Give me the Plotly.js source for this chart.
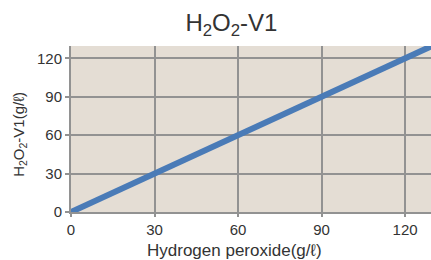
<!DOCTYPE html>
<html><head><meta charset="utf-8">
<script src="https://cdn.plot.ly/plotly-3.0.1.min.js"></script>
<style>html,body{margin:0;padding:0;background:#fff}#c{width:431px;height:260px}</style>
</head><body><div id="c"></div>
<script>
const xVals = [0, 30, 60, 90, 120, 130];
const yVals = [0, 30, 60, 90, 120, 130];
const tickVals = [0, 30, 60, 90, 120];
const tickText = ["0", "30", "60", "90", "120"];
const chartTitle = 'H<sub>2</sub>O<sub>2</sub>-V1';
const xTitle = 'Hydrogen peroxide(g/ℓ)';
const yTitle = 'H<sub>2</sub>O<sub>2</sub>-V1(g/ℓ)';
const font = "Liberation Sans, Arial, sans-serif";
Plotly.newPlot('c', [{
  x: xVals, y: yVals, mode: 'lines', type: 'scatter',
  line: {color: '#4a7bb7', width: 6}, hoverinfo: 'skip'
}], {
  width: 431, height: 260,
  margin: {l: 71, r: 0, t: 46, b: 48},
  paper_bgcolor: '#ffffff', plot_bgcolor: '#e4ddd4',
  showlegend: false,
  title: {text: chartTitle, x: 0.537, xanchor: 'center', y: 0.915, yanchor: 'middle',
          font: {family: font, size: 24, color: '#333'}},
  xaxis: {range: [0, 129.3], tickvals: tickVals, ticktext: tickText, showgrid: true,
          gridcolor: '#929292', gridwidth: 2, showline: true, linecolor: '#929292', linewidth: 2,
          ticks: 'outside', ticklen: 3, tickcolor: '#929292', tickwidth: 2, zeroline: false,
          tickfont: {family: font, size: 15, color: '#333'}},
  yaxis: {range: [0, 129.6], tickvals: tickVals, ticktext: tickText, showgrid: true,
          gridcolor: '#929292', gridwidth: 2, showline: true, linecolor: '#929292', linewidth: 2,
          ticks: 'outside', ticklen: 4, tickcolor: '#929292', tickwidth: 2, zeroline: false,
          tickfont: {family: font, size: 15, color: '#333'}},
  annotations: [
    {text: xTitle, xref: 'paper', yref: 'paper', x: 0.453, y: -0.232, xanchor: 'center', yanchor: 'middle',
     showarrow: false, font: {family: font, size: 17, color: '#333'}},
    {text: yTitle, xref: 'paper', yref: 'paper', x: -0.142, y: 0.47, xanchor: 'center', yanchor: 'middle',
     textangle: -90, showarrow: false, font: {family: font, size: 15, color: '#333'}}
  ]
}, {displayModeBar: false, staticPlot: true});
</script></body></html>
